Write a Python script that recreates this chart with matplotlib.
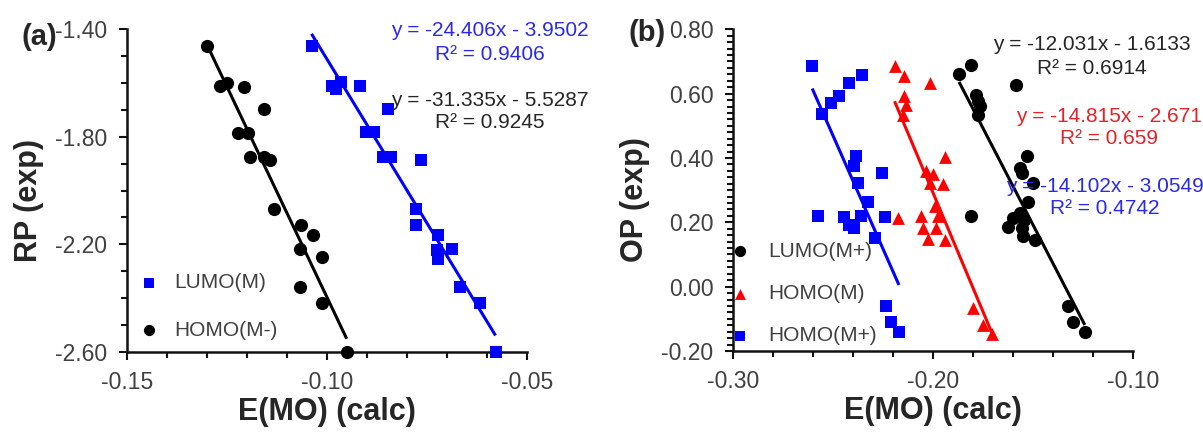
import matplotlib
matplotlib.use("Agg")
import matplotlib.pyplot as plt
from matplotlib.ticker import MultipleLocator, FormatStrFormatter
import numpy as np

plt.rcParams['font.family'] = ['Liberation Sans', 'DejaVu Sans']

# ---------------- data: panel (a) ----------------
a_homo_x = [-0.1299, -0.1267, -0.1250, -0.1207, -0.1158, -0.1221, -0.1196, -0.1191, -0.1158,
            -0.1143, -0.1131, -0.1064, -0.1034, -0.1067, -0.1013, -0.1066, -0.1011, -0.0950]
a_homo_y = [-1.462, -1.612, -1.599, -1.614, -1.698, -1.785, -1.785, -1.876, -1.876,
            -1.886, -2.069, -2.128, -2.166, -2.219, -2.248, -2.359, -2.419, -2.600]
a_lumo_x = [-0.1038, -0.0986, -0.0976, -0.0964, -0.0916, -0.0847, -0.0902, -0.0881, -0.0860, -0.0839,
            -0.0765, -0.0778, -0.0778, -0.0723, -0.0725, -0.0721, -0.0687, -0.0668, -0.0618, -0.0578]
a_lumo_y = [-1.462, -1.612, -1.624, -1.596, -1.612, -1.698, -1.782, -1.782, -1.876, -1.876,
            -1.888, -2.069, -2.129, -2.166, -2.222, -2.254, -2.216, -2.360, -2.419, -2.600]
a_lumo_fit = (-24.406, -3.9502)
a_homo_fit = (-31.335, -5.5287)
a_xticks = [-0.15, -0.10, -0.05]
a_yticks = [-2.60, -2.20, -1.80, -1.40]

# ---------------- data: panel (b) ----------------
b_lumo_x = [-0.1870, -0.1808, -0.1783, -0.1775, -0.1767, -0.1775, -0.1587, -0.1808, -0.1533, -0.1567,
            -0.1558, -0.1500, -0.1525, -0.1567, -0.1600, -0.1625, -0.1558, -0.1548, -0.1550, -0.1492,
            -0.1325, -0.1303, -0.1242]
b_lumo_y = [0.662, 0.690, 0.597, 0.576, 0.561, 0.535, 0.627, 0.221, 0.405, 0.369,
            0.353, 0.322, 0.262, 0.229, 0.2135, 0.187, 0.182, 0.207, 0.156, 0.146,
            -0.061, -0.111, -0.142]
b_homoM_x = [-0.2192, -0.2147, -0.2017, -0.2147, -0.2133, -0.2150, -0.2175, -0.1942, -0.2033, -0.2000,
             -0.1950, -0.2013, -0.1992, -0.2058, -0.1975, -0.2050, -0.1983, -0.2025, -0.1942,
             -0.1800, -0.1750, -0.1703]
b_homoM_y = [0.685, 0.656, 0.633, 0.592, 0.566, 0.535, 0.2135, 0.403, 0.361, 0.350,
             0.318, 0.323, 0.2496, 0.2187, 0.2187, 0.1825, 0.1825, 0.148, 0.146,
             -0.066, -0.118, -0.146]
b_homoP_x = [-0.2603, -0.2353, -0.2420, -0.2467, -0.2508, -0.2553, -0.2383, -0.2392, -0.2253, -0.2375,
             -0.2325, -0.2575, -0.2442, -0.2358, -0.2417, -0.2392, -0.2242, -0.2292,
             -0.2237, -0.2208, -0.2170]
b_homoP_y = [0.687, 0.659, 0.633, 0.592, 0.571, 0.538, 0.405, 0.375, 0.352, 0.322,
             0.262, 0.221, 0.217, 0.221, 0.193, 0.182, 0.217, 0.151,
             -0.061, -0.111, -0.142]
b_lumo_fit = (-12.031, -1.6133)
b_homoM_fit = (-14.815, -2.671)
b_homoP_fit = (-14.102, -3.0549)
b_xticks = [-0.30, -0.20, -0.10]
b_yticks = [-0.20, 0.00, 0.20, 0.40, 0.60, 0.80]

BLUE = '#0000ff'
RED = '#ff0000'
BLACK = '#000000'
TICKC = '#404040'
TXT = '#262626'

W, H = 1203, 432
fig = plt.figure(figsize=(W / 100, H / 100), dpi=100)

def px_axes(x0, y0, x1, y1):
    return fig.add_axes([x0 / W, 1 - y1 / H, (x1 - x0) / W, (y1 - y0) / H])

axA = px_axes(126.7, 29.3, 526.7, 351.7)
axB = px_axes(732.7, 29.3, 1133.3, 351.0)

def style(ax, xticks, yticks, xmin, ymin, xlabel, ylabel):
    ax.set_xlim(xticks[0], xticks[-1])
    ax.set_ylim(yticks[0], yticks[-1])
    ax.set_xticks(xticks)
    ax.set_yticks(yticks)
    ax.xaxis.set_minor_locator(MultipleLocator(xmin))
    ax.yaxis.set_minor_locator(MultipleLocator(ymin))
    ax.xaxis.set_major_formatter(FormatStrFormatter('%.2f'))
    ax.yaxis.set_major_formatter(FormatStrFormatter('%.2f'))
    for s in ['top', 'right']:
        ax.spines[s].set_visible(False)
    for s in ['left', 'bottom']:
        ax.spines[s].set_linewidth(1.8)
        ax.spines[s].set_color('#111111')
    ax.tick_params(which='major', direction='out', length=6, width=1.5, color='#111111',
                   labelsize=16.5, labelcolor=TICKC, pad=8)
    ax.tick_params(which='minor', direction='out', length=4.5, width=1.5, color='#111111')
    ax.set_xlabel(xlabel, fontsize=22, fontweight='bold', color=TXT, va='center')
    ax.set_ylabel(ylabel, fontsize=22, fontweight='bold', color=TXT, va='center')
    ax.xaxis.set_label_coords(0.5, -0.187)
    ax.yaxis.set_label_coords(-0.245, 0.47)
    ax.patch.set_alpha(0)

def fitline(ax, xs, fit, color):
    xx = np.array([min(xs), max(xs)])
    ax.plot(xx, fit[0] * xx + fit[1], color=color, lw=2.2, zorder=3, solid_capstyle='butt')

# ---- panel (a)
style(axA, a_xticks, a_yticks, 0.01, 0.1, 'E(MO) (calc)', 'RP (exp)')
axA.scatter(a_lumo_x, a_lumo_y, marker='s', s=74, color=BLUE, linewidths=0, zorder=4,
            clip_on=False, label='LUMO(M)')
axA.scatter(a_homo_x, a_homo_y, marker='o', s=90, color=BLACK, linewidths=0, zorder=4,
            clip_on=False, label='HOMO(M-)')
fitline(axA, a_lumo_x, a_lumo_fit, BLUE)
fitline(axA, a_homo_x, a_homo_fit, BLACK)
legA = axA.legend(loc='lower left', bbox_to_anchor=(0.030, 0.037), frameon=False, fontsize=15,
                  markerscale=0.85, handlelength=1.0, handletextpad=0.7, labelspacing=1.38,
                  borderpad=0, borderaxespad=0)
for t in legA.get_texts():
    t.set_color(TICKC)

# ---- panel (b)
style(axB, b_xticks, b_yticks, 0.02, 0.02, 'E(MO) (calc)', 'OP (exp)')
axB.scatter(b_lumo_x, b_lumo_y, marker='o', s=90, color=BLACK, linewidths=0, zorder=4,
            clip_on=False, label='LUMO(M+)')
axB.scatter(b_homoM_x, b_homoM_y, marker='^', s=85, color=RED, linewidths=0, zorder=4,
            clip_on=False, label='HOMO(M)')
axB.scatter(b_homoP_x, b_homoP_y, marker='s', s=74, color=BLUE, linewidths=0, zorder=4,
            clip_on=False, label='HOMO(M+)')
fitline(axB, b_lumo_x, b_lumo_fit, BLACK)
fitline(axB, b_homoM_x, b_homoM_fit, RED)
fitline(axB, b_homoP_x, b_homoP_fit, BLUE)
legB = axB.legend(loc='lower left', bbox_to_anchor=(-0.0075, 0.018), frameon=False, fontsize=15,
                  markerscale=0.85, handlelength=1.0, handletextpad=0.86, labelspacing=1.11,
                  borderpad=0, borderaxespad=0)
for t in legB.get_texts():
    t.set_color(TICKC)

# ---- equation annotations
def eq(xc, y1, y2, fit, r2, color):
    fig.text(xc / W, 1 - y1 / H, 'y = %sx - %s' % (fit[0], abs(fit[1])), color=color,
             fontsize=15, ha='center', va='center')
    fig.text(xc / W, 1 - y2 / H, 'R\u00b2 = %s' % r2, color=color,
             fontsize=15, ha='center', va='center')

eq(490, 31, 54, a_lumo_fit, '0.9406', '#2a2ae8')
eq(490, 100, 123, a_homo_fit, '0.9245', TXT)
eq(1092, 44, 68, b_lumo_fit, '0.6914', TXT)
eq(1109, 117, 139, b_homoM_fit, '0.659', '#e52228')
eq(1105, 187, 209, b_homoP_fit, '0.4742', '#2a2ae8')

fig.text(39 / W, 1 - 37 / H, '(a)', fontsize=21, fontweight='bold', color=TXT, ha='center', va='center')
fig.text(647 / W, 1 - 33 / H, '(b)', fontsize=21, fontweight='bold', color=TXT, ha='center', va='center')

fig.savefig('out.png', dpi=100)
